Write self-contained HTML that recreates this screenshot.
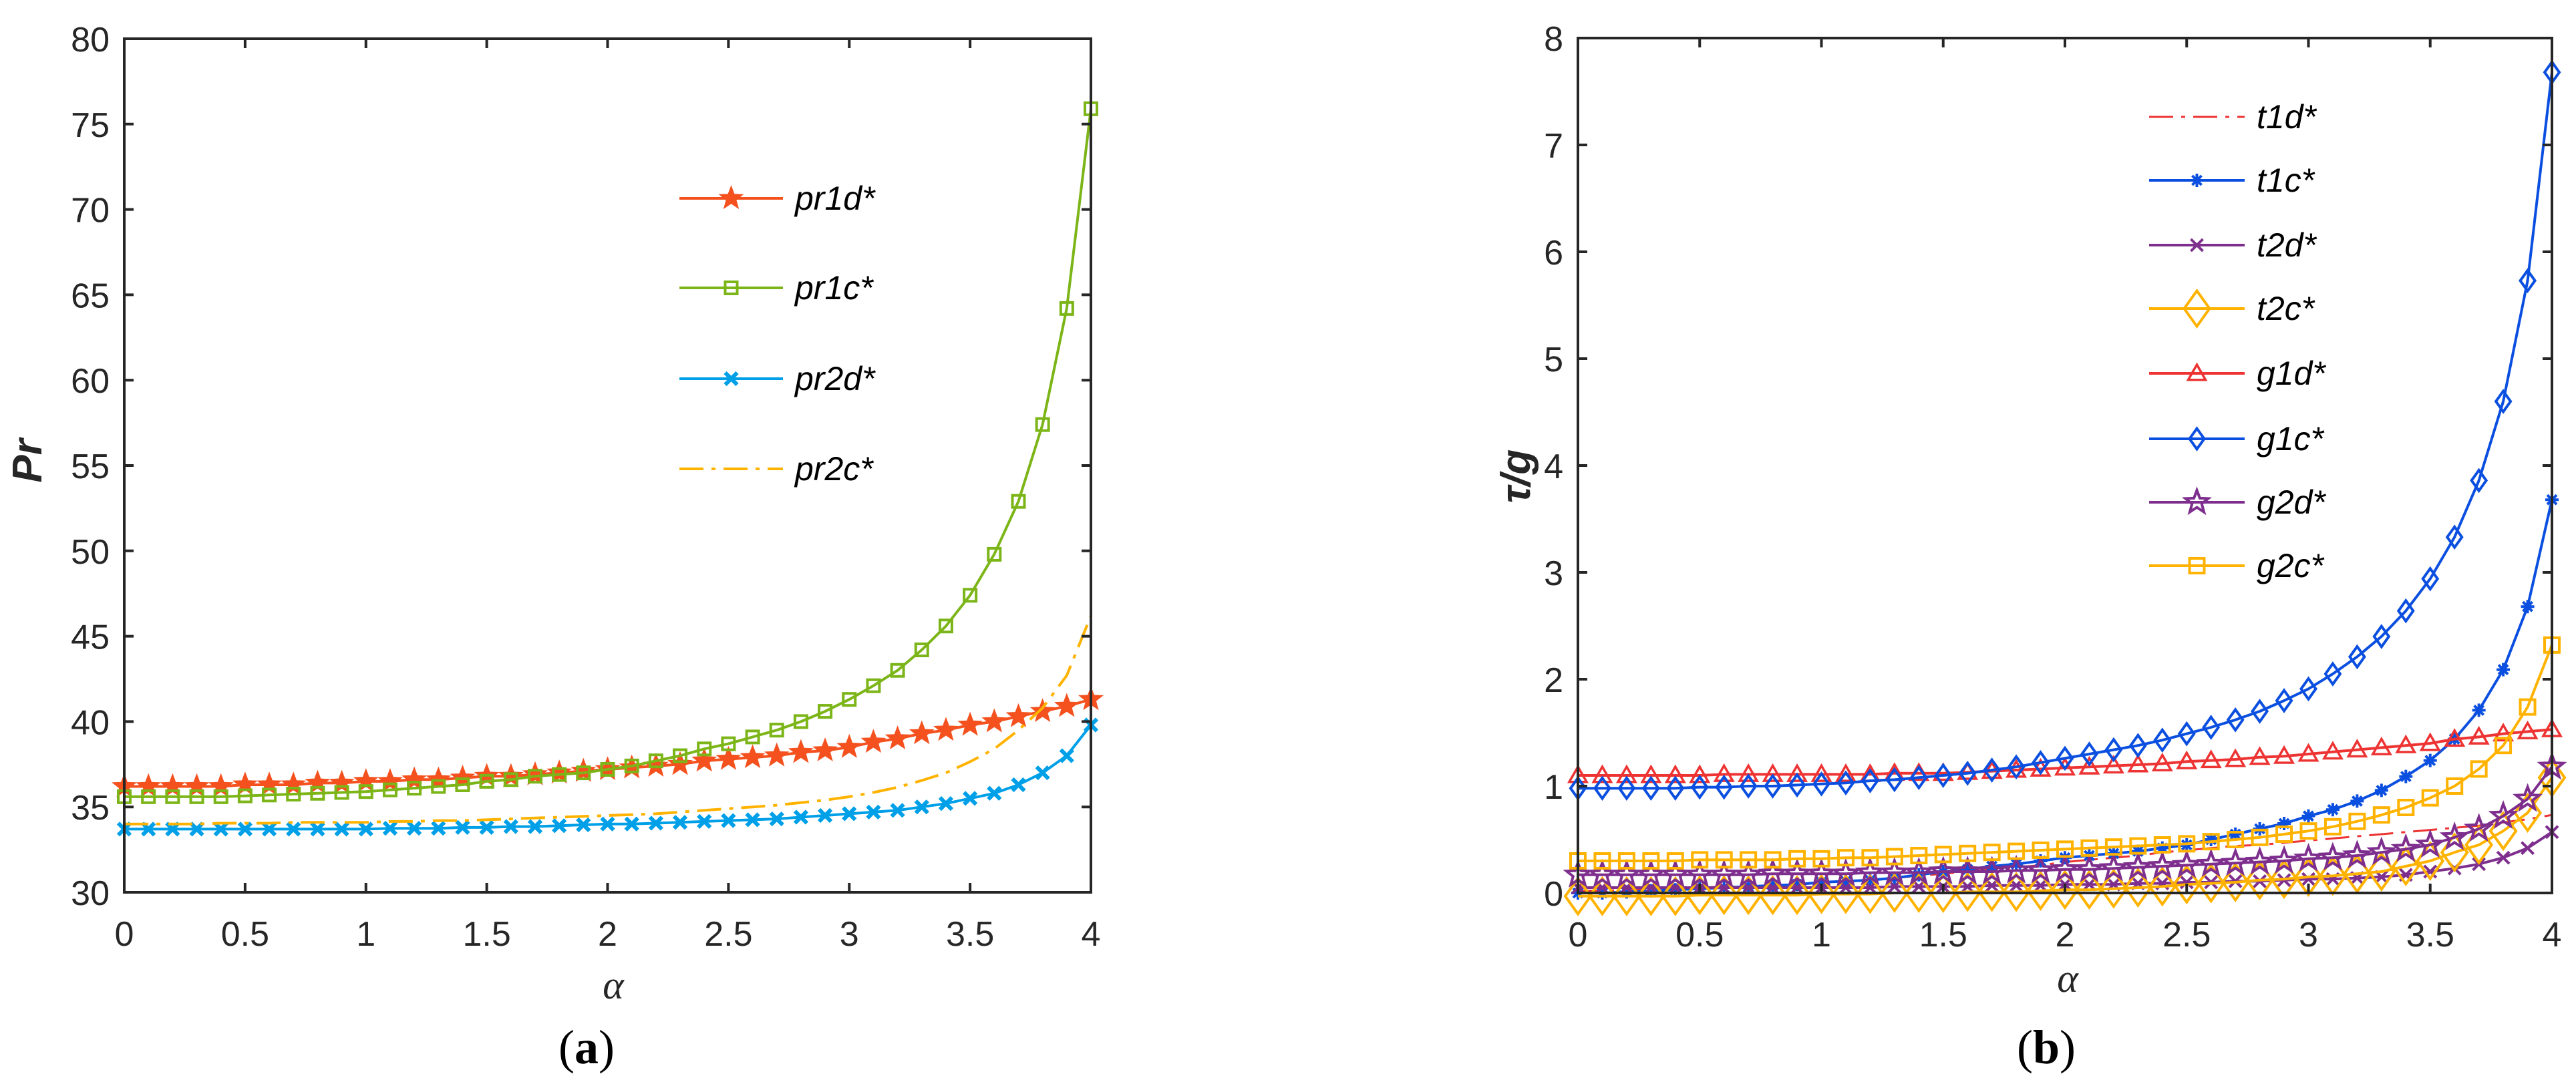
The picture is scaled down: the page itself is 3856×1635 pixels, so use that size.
<!DOCTYPE html>
<html><head><meta charset="utf-8"><style>
html,body{margin:0;padding:0;background:#fff;}
svg{display:block;font-family:"Liberation Sans",sans-serif;}
</style></head><body>
<svg id="fig" width="3856" height="1635" viewBox="0 0 3856 1635" xmlns="http://www.w3.org/2000/svg"></svg>
<script>
// ---- data ----
const xs = [0,0.1,0.2,0.3,0.4,0.5,0.6,0.7,0.8,0.9,1.0,1.1,1.2,1.3,1.4,1.5,1.6,1.7,1.8,1.9,2.0,2.1,2.2,2.3,2.4,2.5,2.6,2.7,2.8,2.9,3.0,3.1,3.2,3.3,3.4,3.5,3.6,3.7,3.8,3.9,4.0];
const pr1d = [36.2,36.2,36.2,36.2,36.2,36.3,36.3,36.3,36.4,36.4,36.5,36.5,36.6,36.6,36.7,36.8,36.8,36.9,37.0,37.1,37.2,37.3,37.4,37.5,37.7,37.8,37.9,38.0,38.2,38.3,38.5,38.8,39.0,39.3,39.5,39.8,40.0,40.3,40.6,40.9,41.3];
const pr1c = [35.6,35.6,35.6,35.6,35.6,35.65,35.7,35.75,35.8,35.85,35.9,36.0,36.1,36.2,36.3,36.5,36.6,36.8,36.9,37.0,37.2,37.4,37.7,38.0,38.4,38.7,39.1,39.5,40.0,40.6,41.3,42.1,43.0,44.2,45.6,47.4,49.8,52.9,57.4,64.2,75.9];
const pr2d = [33.7,33.7,33.7,33.7,33.7,33.7,33.7,33.7,33.7,33.7,33.7,33.75,33.75,33.75,33.8,33.8,33.85,33.85,33.9,33.95,34.0,34.0,34.05,34.1,34.15,34.2,34.25,34.3,34.4,34.5,34.6,34.7,34.8,35.0,35.2,35.5,35.8,36.3,37.0,38.0,39.8];
const pr2c = [34.0,34.0,34.0,34.0,34.05,34.05,34.05,34.1,34.1,34.1,34.1,34.15,34.15,34.2,34.2,34.25,34.3,34.35,34.4,34.45,34.5,34.55,34.6,34.7,34.8,34.9,35.0,35.1,35.25,35.4,35.6,35.85,36.15,36.55,37.0,37.65,38.4,39.5,40.8,42.7,46.2];
const t1d = [0.02,0.02,0.03,0.03,0.04,0.05,0.06,0.06,0.07,0.08,0.1,0.11,0.12,0.14,0.16,0.18,0.2,0.22,0.24,0.26,0.29,0.31,0.33,0.35,0.38,0.4,0.42,0.44,0.45,0.47,0.49,0.51,0.53,0.55,0.57,0.59,0.61,0.63,0.66,0.69,0.73];
const t1c = [0.0,0.0,0.01,0.02,0.03,0.04,0.05,0.06,0.07,0.08,0.1,0.11,0.12,0.14,0.17,0.2,0.22,0.25,0.27,0.3,0.33,0.35,0.37,0.39,0.42,0.45,0.5,0.55,0.6,0.65,0.72,0.78,0.86,0.96,1.09,1.24,1.44,1.71,2.09,2.68,3.68];
const t2d = [0.05,0.05,0.05,0.05,0.05,0.05,0.05,0.05,0.05,0.05,0.05,0.05,0.05,0.06,0.06,0.06,0.06,0.07,0.07,0.07,0.08,0.08,0.08,0.09,0.09,0.1,0.1,0.11,0.11,0.12,0.13,0.13,0.14,0.15,0.17,0.2,0.23,0.27,0.33,0.42,0.57];
const t2c = [-0.03,-0.03,-0.03,-0.03,-0.03,-0.02,-0.02,-0.02,-0.02,-0.02,-0.01,-0.01,-0.01,0.0,0.0,0.0,0.01,0.01,0.01,0.02,0.03,0.03,0.04,0.05,0.06,0.08,0.09,0.1,0.12,0.13,0.15,0.16,0.18,0.2,0.25,0.3,0.38,0.45,0.58,0.75,1.08];
const g1d = [1.1,1.1,1.1,1.1,1.1,1.1,1.11,1.11,1.11,1.11,1.11,1.11,1.11,1.12,1.12,1.12,1.13,1.14,1.15,1.16,1.17,1.18,1.19,1.2,1.21,1.23,1.24,1.25,1.27,1.28,1.3,1.32,1.34,1.36,1.38,1.4,1.44,1.46,1.49,1.51,1.53];
const g1c = [0.98,0.98,0.98,0.98,0.98,0.99,0.99,1.0,1.0,1.01,1.02,1.03,1.05,1.06,1.08,1.1,1.12,1.15,1.18,1.22,1.26,1.3,1.34,1.38,1.43,1.49,1.55,1.62,1.7,1.8,1.91,2.05,2.21,2.4,2.64,2.94,3.33,3.86,4.6,5.73,7.68];
const g2d = [0.17,0.17,0.17,0.17,0.17,0.17,0.17,0.17,0.18,0.18,0.18,0.18,0.19,0.19,0.19,0.2,0.2,0.2,0.21,0.21,0.22,0.22,0.23,0.24,0.25,0.26,0.27,0.28,0.29,0.3,0.32,0.33,0.35,0.38,0.41,0.45,0.52,0.6,0.72,0.88,1.18];
const g2c = [0.3,0.3,0.3,0.3,0.3,0.31,0.31,0.31,0.31,0.32,0.32,0.33,0.33,0.34,0.35,0.36,0.37,0.38,0.39,0.4,0.41,0.42,0.43,0.44,0.45,0.46,0.48,0.5,0.52,0.55,0.58,0.62,0.67,0.73,0.8,0.89,1.0,1.16,1.38,1.74,2.32];
const xTicks = [0,0.5,1,1.5,2,2.5,3,3.5,4];
const xTickLabels = ["0","0.5","1","1.5","2","2.5","3","3.5","4"];
const yTicksA = [30,35,40,45,50,55,60,65,70,75,80];
const yTicksB = [0,1,2,3,4,5,6,7,8];

const NS="http://www.w3.org/2000/svg";
const svg=document.getElementById('fig');
function mk(tag,attrs,parent){const e=document.createElementNS(NS,tag);for(const k in attrs)e.setAttribute(k,attrs[k]);(parent||svg).appendChild(e);return e;}

function marker(g,type,cx,cy,color,s){
  let e;
  if(type==='star5'){
    let p=[];for(let i=0;i<10;i++){const r=i%2?s*0.42:s;const a=-Math.PI/2+i*Math.PI/5;p.push((cx+r*Math.cos(a)).toFixed(1)+','+(cy+r*Math.sin(a)).toFixed(1));}
    e=mk('polygon',{points:p.join(' '),fill:color.fill||'none',stroke:color.c,'stroke-width':color.w||4},g);
  } else if(type==='square'){
    e=mk('rect',{x:cx-s,y:cy-s,width:2*s,height:2*s,fill:'none',stroke:color.c,'stroke-width':color.w||4},g);
  } else if(type==='x'){
    e=mk('path',{d:`M${cx-s},${cy-s}L${cx+s},${cy+s}M${cx-s},${cy+s}L${cx+s},${cy-s}`,stroke:color.c,'stroke-width':color.w||4},g);
  } else if(type==='ast'){
    e=mk('path',{d:`M${cx-s},${cy}L${cx+s},${cy}M${cx},${cy-s}L${cx},${cy+s}M${cx-s*0.7},${cy-s*0.7}L${cx+s*0.7},${cy+s*0.7}M${cx-s*0.7},${cy+s*0.7}L${cx+s*0.7},${cy-s*0.7}`,stroke:color.c,'stroke-width':color.w||4},g);
  } else if(type==='diamond'){
    const h=s*1.4;
    e=mk('polygon',{points:`${cx},${cy-h} ${cx+s},${cy} ${cx},${cy+h} ${cx-s},${cy}`,fill:'none',stroke:color.c,'stroke-width':color.w||4},g);
  } else if(type==='tri'){
    e=mk('polygon',{points:`${cx},${cy-s} ${cx+s},${cy+s*0.75} ${cx-s},${cy+s*0.75}`,fill:'none',stroke:color.c,'stroke-width':color.w||4},g);
  }
  
  
}

function axes(cfg){
  const g=mk('g',{});
  
  
  const X=v=>cfg.x0+(v-0)/(4-0)*(cfg.x1-cfg.x0);
  const Y=v=>cfg.y0-(v-cfg.ymin)/(cfg.ymax-cfg.ymin)*(cfg.y0-cfg.y1);
  cfg.series.forEach(s=>{
    const sg=mk('g',{},g);
    
    
    const d=xs.map((x,i)=>(i?'L':'M')+X(x).toFixed(1)+','+Y(s.v[i]).toFixed(1)).join('');
    const ln=mk('path',{d:d,fill:'none',stroke:s.c,'stroke-width':s.lw||4,'stroke-dasharray':s.dash||'none','stroke-linejoin':'round'},sg);
    
    
    if(s.m) xs.forEach((x,i)=>marker(sg,s.m,X(x),Y(s.v[i]),{c:s.c,fill:s.fill,w:s.mw},s.ms));
  });
  const box=mk('rect',{x:cfg.x0,y:cfg.y1,width:cfg.x1-cfg.x0,height:cfg.y0-cfg.y1,fill:'none',stroke:'#262626','stroke-width':4},g);
  
  
  xTicks.forEach((t,i)=>{
    const x=X(t);
    mk('path',{d:`M${x},${cfg.y0}v-14M${x},${cfg.y1}v14`,stroke:'#262626','stroke-width':4},g);
    const tx=mk('text',{x:x,y:cfg.y0+80,'font-size':52,'text-anchor':'middle',fill:'#262626'},g);
    tx.textContent=xTickLabels[i];
    
    
  });
  cfg.yt.forEach(t=>{
    const y=Y(t);
    mk('path',{d:`M${cfg.x0},${y}h14M${cfg.x1},${y}h-14`,stroke:'#262626','stroke-width':4},g);
    const tx=mk('text',{x:cfg.x0-22,y:y+19,'font-size':52,'text-anchor':'end',fill:'#262626'},g);
    tx.textContent=String(t);
    
    
  });
  const xl=mk('text',{x:cfg.xlx,y:cfg.xly,'font-size':60,'font-style':'italic','font-family':'Liberation Serif, serif','text-anchor':'middle',fill:'#262626'},g);
  xl.textContent='α';
  
  
  const yl=mk('text',{x:0,y:0,'font-size':62,'font-weight':'bold','font-style':'italic','text-anchor':'middle',fill:'#262626',transform:`translate(${cfg.ylx},${cfg.yly}) rotate(-90)`},g);
  yl.textContent=cfg.ylabel;
  
  
  const lg=mk('g',{},g);
  
  
  cfg.series.forEach((s,i)=>{
    const y=cfg.legY[i];
    const e=mk('g',{},lg);
    
    
    mk('path',{d:`M${cfg.legX},${y}h${cfg.legLen}`,stroke:s.c,'stroke-width':s.lw||4,'stroke-dasharray':s.dash||'none'},e);
    if(s.m) marker(e,s.m,cfg.legX+cfg.legLen/2,y,{c:s.c,fill:s.fill,w:s.mw},s.ms);
    const t=mk('text',{x:cfg.legX+cfg.legLen+18,y:y+17,'font-size':50,'font-style':'italic',fill:'#000'},e);
    t.textContent=s.label;
  });
  const pl=mk('text',{x:cfg.plx,y:1592,'font-size':72,'font-family':'Liberation Serif, serif','text-anchor':'middle',fill:'#000'},g);
  pl.innerHTML='(<tspan font-weight="bold">'+cfg.panel+'</tspan>)';
  
  
}

axes({name:'chart-a',x0:186,x1:1633,y0:1336,y1:58,ymin:30,ymax:80,yt:yTicksA,
  xlx:918,xly:1495,ylx:62,yly:690,ylabel:'Pr',plx:878,panel:'a',
  legX:1017,legLen:155,legY:[297,431,567,702],
  series:[
    {label:'pr1d*',v:pr1d,c:'#F4511E',m:'star5',ms:17,fill:'#F4511E',mw:2},
    {label:'pr1c*',v:pr1c,c:'#7CB518',m:'square',ms:9,mw:4},
    {label:'pr2d*',v:pr2d,c:'#00A0E8',m:'x',ms:9,mw:6},
    {label:'pr2c*',v:pr2c,c:'#FFB300',dash:'36 12 6 12',lw:4}
  ]});
axes({name:'chart-b',x0:2362,x1:3820,y0:1337,y1:57,ymin:0,ymax:8,yt:yTicksB,
  xlx:3095,xly:1485,ylx:2290,yly:713,ylabel:'τ/g',plx:3063,panel:'b',
  legX:3217,legLen:143,legY:[175,270,367,462,559,657,752,847],
  series:[
    {label:'t1d*',v:t1d,c:'#EE3333',dash:'36 12 6 12',lw:3},
    {label:'t1c*',v:t1c,c:'#0B4FE0',m:'ast',ms:10,mw:4},
    {label:'t2d*',v:t2d,c:'#7E2F8E',m:'x',ms:9,mw:4},
    {label:'t2c*',v:t2c,c:'#FFB300',m:'diamond',ms:19,mw:4},
    {label:'g1d*',v:g1d,c:'#EE3333',m:'tri',ms:13,mw:3.5},
    {label:'g1c*',v:g1c,c:'#0B4FE0',m:'diamond',ms:11,mw:4},
    {label:'g2d*',v:g2d,c:'#7E2F8E',m:'star5',ms:18,mw:4},
    {label:'g2c*',v:g2c,c:'#FFB300',m:'square',ms:11,mw:4}
  ]});
</script>
</body></html>
